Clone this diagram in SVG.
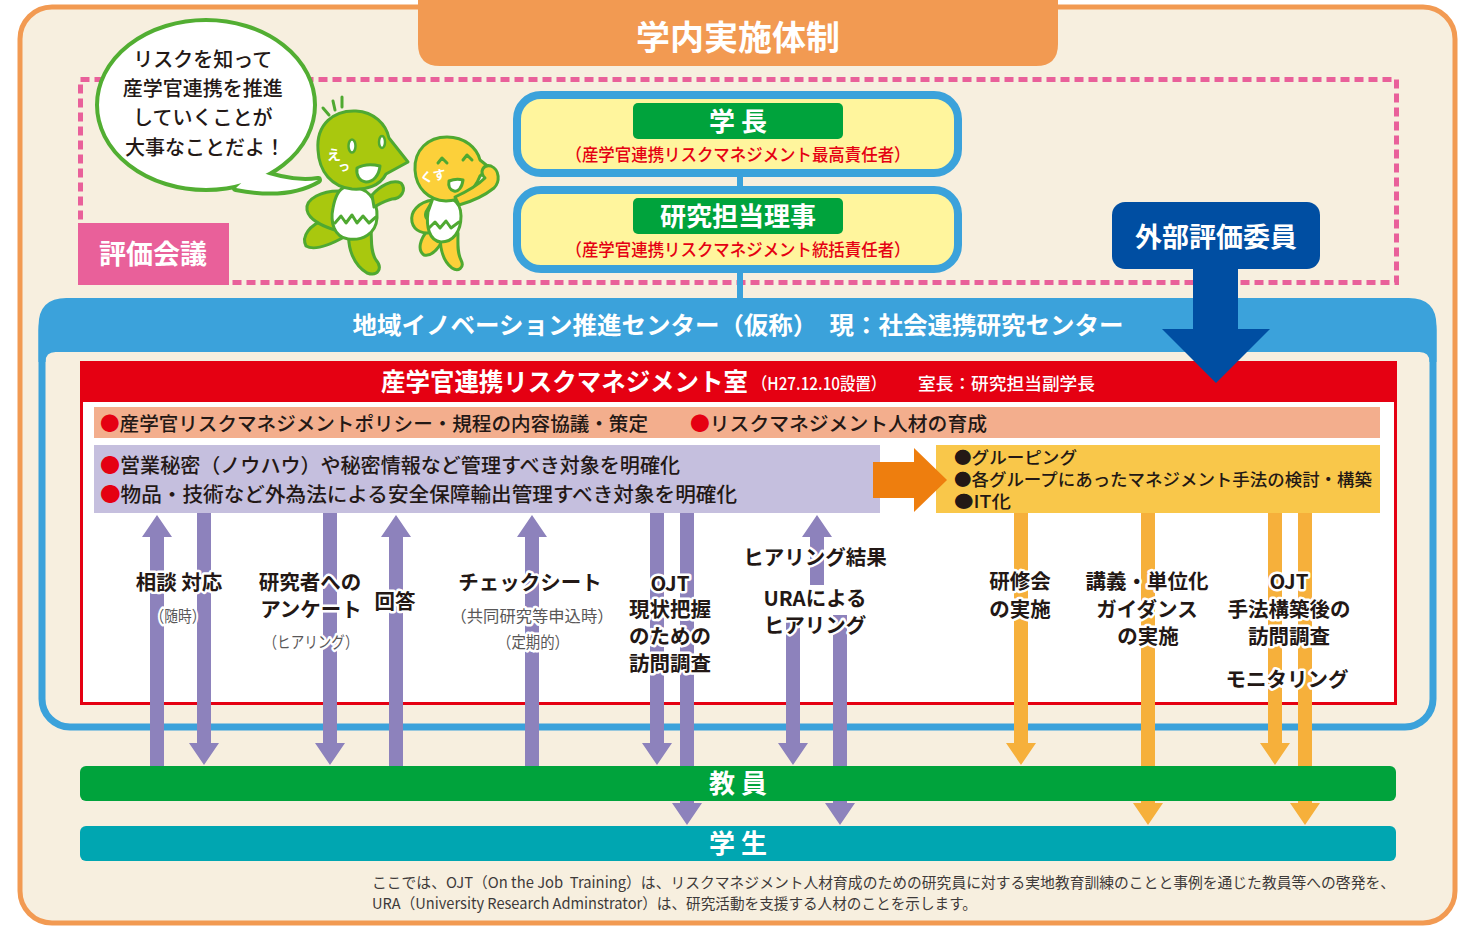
<svg xmlns="http://www.w3.org/2000/svg" width="1465" height="927" viewBox="0 0 1465 927">
<defs>
<style>
text{font-family:"Noto Sans CJK JP","Noto Sans",sans-serif;}
.b{font-weight:700;}
.m{font-weight:500;}
.w{fill:#fff;}
.k{fill:#231815;}
.r{fill:#E50012;}
.mid{text-anchor:middle;}
.lbl{font-weight:700;font-size:20.5px;fill:#231815;stroke:#fff;stroke-width:5px;stroke-linejoin:round;paint-order:stroke;text-anchor:middle;}
.sub{font-size:16px;font-weight:400;fill:#595757;stroke:#fff;stroke-width:5px;stroke-linejoin:round;paint-order:stroke;text-anchor:middle;}
.pa{fill:#8D82BC;}
.oa{fill:#F6B03B;}
.bird{stroke:#4FA931;stroke-width:3;stroke-linejoin:round;stroke-linecap:round;}
.gb{fill:#A9C80E;}
.yb{fill:#FCD03A;}
.officer{fill:#FFF59D;stroke:#3BA2DB;stroke-width:8;}
.badge{fill:#00A33C;}
.bar{font-weight:700;font-size:26px;fill:#fff;text-anchor:middle;}
</style>
</defs>

<!-- page background and frame -->
<rect width="1465" height="927" fill="#fff"/>
<rect x="20" y="7" width="1435" height="916" rx="32" fill="#F7EFDF" stroke="#F29A52" stroke-width="5"/>

<!-- title tab -->
<g id="title">
<path d="M418,0 H1058 V44 Q1058,66 1036,66 H440 Q418,66 418,44 Z" fill="#F29A52"/>
<text x="738" y="50" class="b w mid" font-size="34">学内実施体制</text>
</g>

<!-- evaluation council area -->
<g id="evaluation-council">
<rect x="80.5" y="79.5" width="1316" height="203" fill="none" stroke="#E9609A" stroke-width="5" stroke-dasharray="9 5"/>
<rect x="78" y="223" width="151" height="62" fill="#E9609A"/>
<text x="153" y="264" class="b w mid" font-size="27">評価会議</text>
</g>

<!-- speech bubble -->
<g id="bubble">
<path d="M255,170 Q290,184 318,180 Q288,198 236,188 Z" fill="#fff" stroke="#52AE32" stroke-width="8" stroke-linejoin="round"/>
<ellipse cx="206" cy="105" rx="109" ry="85" fill="#fff" stroke="#52AE32" stroke-width="4"/>
<path d="M255,170 Q290,184 318,180 Q288,198 236,188 Z" fill="#fff"/>
<text class="k mid m" font-size="20">
<tspan x="205" y="67">リスクを知って</tspan>
<tspan x="205" y="96">産学官連携を推進</tspan>
<tspan x="205" y="125">していくことが</tspan>
<tspan x="205" y="155">大事なことだよ！</tspan>
</text>
</g>

<!-- green mascot -->
<g id="mascot-green" class="bird">
<path d="M323,108 L329,115 M333,101 L335,110 M342,97 L342,107" fill="none"/>
<path class="gb" d="M324,220 C310,225 301,236 306,246 C314,251 330,245 346,236 Z"/>
<path class="gb" d="M349,230 C347,249 354,265 367,273 C378,277 383,268 376,260 C370,251 372,240 371,230 Z"/>
<path class="gb" d="M342,191 C322,190 305,199 307,210 C309,221 325,227 338,231 L352,214 Z"/>
<path d="M345,187 C368,185 378,200 377,218 C376,234 362,241 348,239 C334,237 330,222 333,208 C335,197 339,189 345,187 Z" fill="#fff"/>
<path d="M335,223 L341,216 L346,223 L352,215 L357,223 L363,216 L369,223 L376,217" fill="none"/>
<path class="gb" d="M372,195 C380,186 392,179 401,183 C407,190 401,199 392,199 C384,201 378,205 374,207 Z"/>
<path class="gb" d="M318,150 C316,124 334,110 356,111 C374,112 386,124 389,138 L408,162 L386,174 C380,186 366,190 352,189 C332,187 319,172 318,150 Z"/>
<ellipse cx="352" cy="146" rx="3.5" ry="6.5" fill="#fff" stroke-width="2.5"/>
<ellipse cx="382" cy="142" rx="3" ry="6" fill="#fff" stroke-width="2.5"/>
<path d="M357,168 C364,164 372,164 380,166 C379,176 373,182 366,182 C359,181 356,175 357,168 Z" fill="#fff"/>
</g>
<text class="b w"><tspan x="327" y="160" font-size="14">え</tspan><tspan x="338" y="171" font-size="12">っ</tspan></text>

<!-- yellow mascot -->
<g id="mascot-yellow" class="bird">
<path class="yb" d="M428,230 C420,239 417,250 424,255 C432,257 438,249 443,240 Z"/>
<path class="yb" d="M440,235 C440,250 444,262 452,268 C458,272 465,268 461,260 C457,252 458,244 458,233 Z"/>
<path class="yb" d="M433,200 C418,202 410,212 412,222 C414,231 424,235 433,232 L436,222 C428,222 424,218 426,212 Z"/>
<path d="M433,198 C449,194 461,200 461,216 C461,232 453,242 441,242 C429,241 426,226 428,212 Z" fill="#fff"/>
<path d="M429,228 L435,222 L440,228 L446,221 L451,228 L459,222" fill="none"/>
<path class="yb" d="M415,170 C414,150 428,137 447,137 C465,137 477,148 480,160 L490,168 L480,176 C474,192 460,201 446,201 C428,200 416,188 415,170 Z"/>
<path class="yb" d="M455,197 C468,191 479,184 485,178 C479,172 483,164 491,166 C500,170 500,182 494,188 C484,196 470,202 459,205 Z"/>
<path d="M438,163 L442,158 L447,163 M463,160 L467,155 L472,160" fill="none"/>
<path d="M449,181 C454,179 459,179 463,180 C462,188 458,192 454,191 C450,190 448,186 449,181 Z" fill="#fff"/>
</g>
<text x="421" y="183" class="b w" font-size="13" transform="rotate(-10 421 183)">くす</text>

<!-- president -->
<g id="president">
<rect class="officer" x="517" y="95" width="441" height="78" rx="24"/>
<rect class="badge" x="633" y="103" width="210" height="36" rx="5"/>
<text x="738" y="131" class="bar" font-size="26">学 長</text>
<text x="738" y="161" class="r mid m" font-size="17.5" textLength="345" lengthAdjust="spacingAndGlyphs">（産学官連携リスクマネジメント最高責任者）</text>
</g>

<!-- executive director for research -->
<g id="research-director">
<rect class="officer" x="517" y="190" width="441" height="79" rx="24"/>
<rect class="badge" x="633" y="198" width="210" height="36" rx="5"/>
<text x="738" y="226" class="bar" font-size="27">研究担当理事</text>
<text x="738" y="256" class="r mid m" font-size="17.5" textLength="345" lengthAdjust="spacingAndGlyphs">（産学官連携リスクマネジメント統括責任者）</text>
</g>

<!-- external evaluators -->
<g id="external-evaluators">
<rect x="1112" y="202" width="208" height="67" rx="13" fill="#004EA2"/>
<text x="1216" y="247" class="b w mid" font-size="27">外部評価委員</text>
</g>

<!-- regional innovation centre -->
<g id="innovation-center">
<rect x="42" y="302" width="1391" height="425" rx="28" fill="none" stroke="#3BA2DB" stroke-width="7"/>
<path d="M38.5,362 V326 Q38.5,298 66.5,298 H1408.5 Q1436.5,298 1436.5,326 V362 H1429.5 Q1429.5,352 1419.5,352 H55.5 Q45.5,352 45.5,362 Z" fill="#3BA2DB"/>
<text x="738" y="334" class="b w mid" font-size="24" textLength="771" lengthAdjust="spacingAndGlyphs">地域イノベーション推進センター（仮称）　現：社会連携研究センター</text>
</g>

<!-- risk management office -->
<g id="risk-office">
<rect x="81.5" y="362.5" width="1314" height="341" fill="#fff" stroke="#E50012" stroke-width="3"/>
<rect x="80" y="361" width="1317" height="41" fill="#E50012"/>
<text x="381" y="391" class="b w" font-size="25" textLength="367" lengthAdjust="spacingAndGlyphs">産学官連携リスクマネジメント室</text>
<text x="752" y="390" class="w m" font-size="17" textLength="134" lengthAdjust="spacingAndGlyphs">（H27.12.10設置）</text>
<text x="918" y="390" class="w m" font-size="17" textLength="177" lengthAdjust="spacingAndGlyphs">室長：研究担当副学長</text>
</g>

<g id="policy-band">
<rect x="94" y="407" width="1286" height="31" fill="#F3AE8D"/>
<text x="100" y="431" class="k m" font-size="19.5" textLength="548" lengthAdjust="spacingAndGlyphs"><tspan class="r">●</tspan>産学官リスクマネジメントポリシー・規程の内容協議・策定</text>
<text x="690" y="431" class="k m" font-size="19.5" textLength="297" lengthAdjust="spacingAndGlyphs"><tspan class="r">●</tspan>リスクマネジメント人材の育成</text>
</g>

<g id="clarify-targets">
<rect x="94" y="445" width="786" height="68" fill="#C5BFDE"/>
<text class="k m" font-size="20">
<tspan x="100" y="473" textLength="580" lengthAdjust="spacingAndGlyphs"><tspan class="r">●</tspan>営業秘密（ノウハウ）や秘密情報など管理すべき対象を明確化</tspan>
<tspan x="100" y="502" textLength="637" lengthAdjust="spacingAndGlyphs"><tspan class="r">●</tspan>物品・技術など外為法による安全保障輸出管理すべき対象を明確化</tspan>
</text>
</g>

<g id="grouping">
<rect x="936" y="445" width="444" height="68" fill="#F9C74A"/>
<text class="k m" font-size="17">
<tspan x="954" y="464" textLength="123" lengthAdjust="spacingAndGlyphs">●グルーピング</tspan>
<tspan x="954" y="486" textLength="418" lengthAdjust="spacingAndGlyphs">●各グループにあったマネジメント手法の検討・構築</tspan>
<tspan x="954" y="508" textLength="57" lengthAdjust="spacingAndGlyphs">●IT化</tspan>
</text>
</g>

<!-- connectors -->
<g id="connectors">
<path d="M740,173 V190 M740,269 V300" stroke="#3BA2DB" stroke-width="6" fill="none"/>
<polygon fill="#EE7E0E" points="873,462 914,462 914,448 947,480 914,512 914,498 873,498"/>
<polygon class="pa" points="150,766 164,766 164,537 172,537 157,515 142,537 150,537"/>
<polygon class="pa" points="197,513 211,513 211,743 219,743 204,765 189,743 197,743"/>
<polygon class="pa" points="323,513 337,513 337,743 345,743 330,765 315,743 323,743"/>
<polygon class="pa" points="389,766 403,766 403,537 411,537 396,515 381,537 389,537"/>
<polygon class="pa" points="525,766 539,766 539,537 547,537 532,515 517,537 525,537"/>
<polygon class="pa" points="650,513 664,513 664,743 672,743 657,765 642,743 650,743"/>
<polygon class="pa" points="680,513 694,513 694,803 702,803 687,825 672,803 680,803"/>
<polygon class="pa" points="810,585 824,585 824,537 832,537 817,515 802,537 810,537"/>
<polygon class="pa" points="786,615 800,615 800,743 808,743 793,765 778,743 786,743"/>
<polygon class="pa" points="833,615 847,615 847,803 855,803 840,825 825,803 833,803"/>
<polygon class="oa" points="1014,513 1028,513 1028,743 1036,743 1021,765 1006,743 1014,743"/>
<polygon class="oa" points="1141,513 1155,513 1155,803 1163,803 1148,825 1133,803 1141,803"/>
<polygon class="oa" points="1268,513 1282,513 1282,743 1290,743 1275,765 1260,743 1268,743"/>
<polygon class="oa" points="1298,513 1312,513 1312,803 1320,803 1305,825 1290,803 1298,803"/>
<polygon fill="#004EA2" points="1193,268 1238,268 1238,329 1270,329 1216,383 1162,329 1193,329"/>
</g>

<!-- faculty and students -->
<g id="faculty">
<rect x="80" y="766" width="1316" height="35" rx="6" fill="#00A33C"/>
<text x="738" y="793" class="bar">教 員</text>
</g>
<g id="students">
<rect x="80" y="826" width="1316" height="35" rx="6" fill="#00A6B1"/>
<text x="738" y="853" class="bar">学 生</text>
</g>

<!-- connector labels -->
<g id="labels">
<text class="lbl"><tspan x="179" y="590">相談 対応</tspan><tspan class="sub" x="178" y="622" textLength="55" lengthAdjust="spacingAndGlyphs">（随時）</tspan></text>
<text class="lbl"><tspan x="310" y="590">研究者への</tspan><tspan x="311" y="617">アンケート</tspan><tspan class="sub" x="311" y="648" textLength="95" lengthAdjust="spacingAndGlyphs">（ヒアリング）</tspan></text>
<text x="395" y="609" class="lbl">回答</text>
<text class="lbl"><tspan x="530" y="590">チェックシート</tspan><tspan class="sub" x="532" y="622" textLength="163" lengthAdjust="spacingAndGlyphs">（共同研究等申込時）</tspan><tspan class="sub" x="533" y="648" textLength="72" lengthAdjust="spacingAndGlyphs">（定期的）</tspan></text>
<text class="lbl"><tspan x="670" y="591">OJT</tspan><tspan x="670" y="617">現状把握</tspan><tspan x="670" y="644">のための</tspan><tspan x="670" y="671">訪問調査</tspan></text>
<text x="815" y="565" class="lbl">ヒアリング結果</text>
<text class="lbl"><tspan x="815" y="606">URAによる</tspan><tspan x="815" y="633">ヒアリング</tspan></text>
<text class="lbl"><tspan x="1020" y="589">研修会</tspan><tspan x="1020" y="617">の実施</tspan></text>
<text class="lbl"><tspan x="1147" y="589">講義・単位化</tspan><tspan x="1147" y="617">ガイダンス</tspan><tspan x="1148" y="644">の実施</tspan></text>
<text class="lbl"><tspan x="1289" y="589">OJT</tspan><tspan x="1289" y="617">手法構築後の</tspan><tspan x="1289" y="644">訪問調査</tspan></text>
<text x="1287" y="687" class="lbl">モニタリング</text>
</g>

<!-- footnote -->
<g id="footnote" fill="#3E3A39" font-size="15">
<text x="372" y="888" textLength="1023" lengthAdjust="spacingAndGlyphs">ここでは、OJT（On the Job&#160; Training）は、リスクマネジメント人材育成のための研究員に対する実地教育訓練のことと事例を通じた教員等への啓発を、</text>
<text x="372" y="909" textLength="605" lengthAdjust="spacingAndGlyphs">URA（University Research Adminstrator）は、研究活動を支援する人材のことを示します。</text>
</g>
</svg>
